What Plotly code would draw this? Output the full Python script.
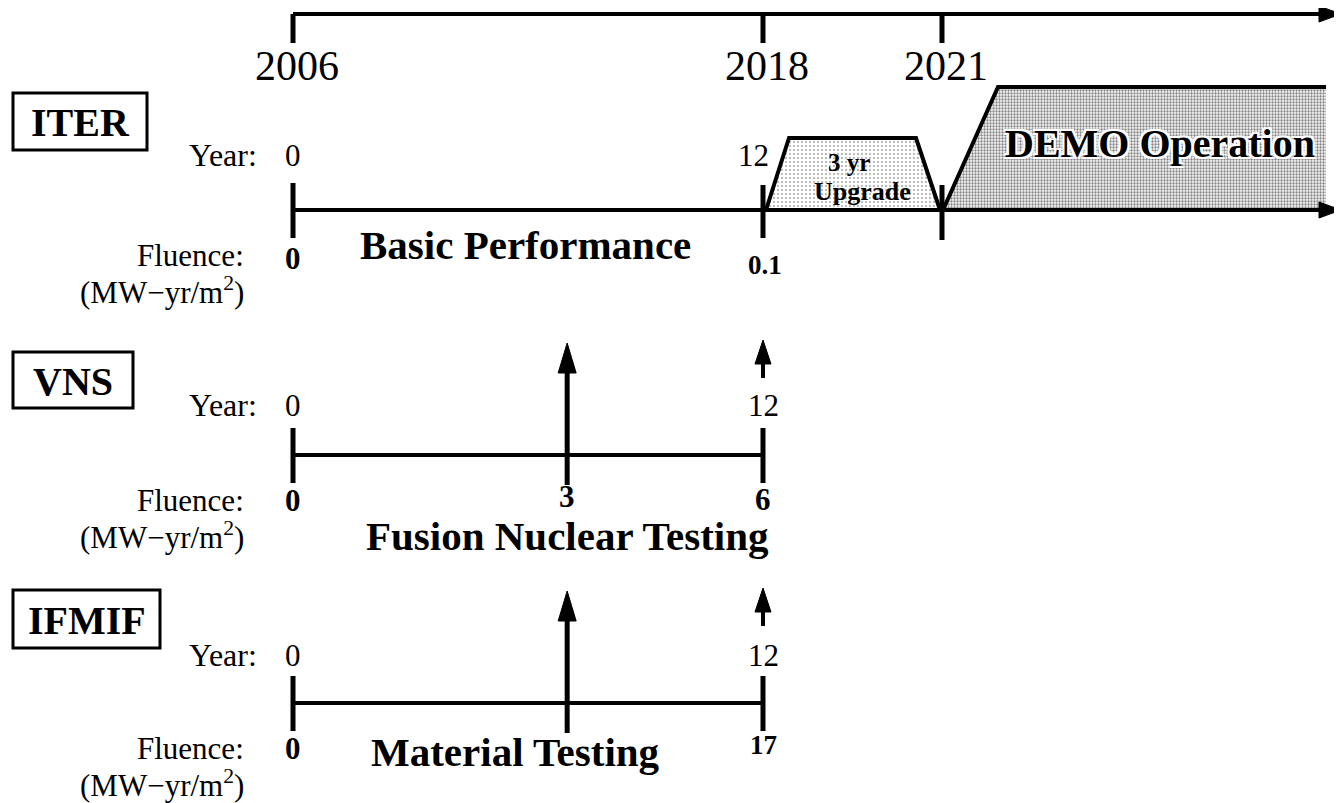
import numpy as np
import plotly.graph_objects as go

# ---- chart content ------------------------------------------------------
calendar_years = [2006, 2018, 2021]
facilities = ["ITER", "VNS", "IFMIF"]
programmes = ["Basic Performance", "Fusion Nuclear Testing", "Material Testing"]
year_ticks = [0, 12]
milestone_year = 7            # the upward arrow on the VNS / IFMIF lines
iter_fluence = ["0", "0.1"]
vns_fluence = ["0", "3", "6"]
ifmif_fluence = ["0", "", "17"]
upgrade_label = ["3 yr", "Upgrade"]
demo_label = "DEMO Operation"

# ---- schematic layout (page pixels, y grows downward) -------------------
W, H = 1342, 803
PAGE_OFF = 8                  # browser body margin: figure starts 8px in
X0, X12 = 293, 763            # year 0 and year 12 on each facility line
X_2021 = 942                  # end of the (not to scale) upgrade period
X_END = 1326
TIP = 1341
TOP_Y = 14
ROW_Y = [210, 455, 703]
YEAR_DY = [55, 50, 48]
BOXES = [(13, 93, 147, 150), (13, 352, 133, 408), (13, 590, 160, 648)]
SERIF = "Liberation Serif"
INK = "black"


def yr_x(yr):
    return X0 + (X12 - X0) * yr / 12.0


def cal_x(year):
    return float(np.interp(year, calendar_years, [X0, X12, X_2021]))


fig = go.Figure()


def line(xs, ys, w=4):
    fig.add_trace(go.Scatter(x=xs, y=ys, mode="lines", line=dict(color=INK, width=w),
                             hoverinfo="skip", showlegend=False))


def head(tx, ty, direction, length=22, half=8):
    # filled triangle arrowhead with its tip at (tx, ty)
    if direction == "right":
        xs, ys = [tx, tx - length, tx - length, tx], [ty, ty - half, ty + half, ty]
    else:  # up
        xs, ys = [tx, tx - half, tx + half, tx], [ty, ty + length, ty + length, ty]
    fig.add_trace(go.Scatter(x=xs, y=ys, mode="lines", fill="toself", fillcolor=INK,
                             line=dict(color=INK, width=1), hoverinfo="skip",
                             showlegend=False))


def text(x, y, s, size=30, bold=False, anchor="center", **kw):
    fig.add_annotation(x=x, y=y, xref="x", yref="y", text=s, showarrow=False,
                       xanchor=anchor, yanchor="middle", borderpad=0,
                       font=dict(family=SERIF, size=size, color=INK,
                                 weight="bold" if bold else "normal", **kw))


# ---- ITER upgrade and DEMO blocks ----------------------------------------
r = ROW_Y[0]
ux = [cal_x(2018) + 3, cal_x(2018) + 26, cal_x(2021) - 26, cal_x(2021) - 2]
fig.add_trace(go.Scatter(x=ux, y=[r, 138, 138, r], mode="lines", fill="toself",
                         fillcolor="white",
                         fillpattern=dict(shape=".", fgcolor="#444444", bgcolor="white",
                                          size=4, solidity=0.18),
                         line=dict(color=INK, width=4), hoverinfo="skip",
                         showlegend=False))
dx = [cal_x(2021) + 1, cal_x(2021) + 56, X_END, X_END]
fig.add_trace(go.Scatter(x=dx, y=[r, 87, 87, r], mode="none", fill="toself",
                         fillcolor="white",
                         fillpattern=dict(shape=".", fgcolor="#111111", bgcolor="#f6f6f6",
                                          size=3, solidity=0.45),
                         hoverinfo="skip", showlegend=False))
line(dx[:3], [r, 87, 87])

# ---- top calendar axis ---------------------------------------------------
line([X0, X_END], [TOP_Y, TOP_Y])
head(TIP, TOP_Y, "right")
for yv in calendar_years:
    line([cal_x(yv)] * 2, [TOP_Y, TOP_Y + 29], w=5)
    text(cal_x(yv) + 4, 66, str(yv), size=42)

# ---- facility lines --------------------------------------------------------
for i, name in enumerate(facilities):
    r = ROW_Y[i]
    bx0, by0, bx1, by1 = BOXES[i]
    fig.add_shape(type="rect", x0=bx0, y0=by0, x1=bx1, y1=by1, xref="x", yref="y",
                  line=dict(color=INK, width=3))
    text((bx0 + bx1) / 2, (by0 + by1) / 2 + 1, name, size=40, bold=True)

    text(258, r - YEAR_DY[i], "Year:", size=32, anchor="right")
    text(yr_x(year_ticks[0]), r - YEAR_DY[i], str(year_ticks[0]), size=31)
    text(yr_x(year_ticks[1]) - (10 if name == "ITER" else 0), r - YEAR_DY[i],
         str(year_ticks[1]), size=31)
    text(245, r + 45, "Fluence:", size=31, anchor="right")
    text(245, r + 80, "(MW\u2212yr/m<sup>2</sup>)", size=31, anchor="right")

    if name == "ITER":
        line([X0, X_END], [r, r])
        head(TIP, r, "right")
        line([X0, X0], [r - 27, r + 28], w=5)
        line([X12, X12], [r - 25, r + 28], w=5)
        line([X_2021, X_2021], [r - 25, r + 30], w=5)
        text(yr_x(0), r + 48, iter_fluence[0], size=31, bold=True)
        text(yr_x(12) + 2, r + 55, iter_fluence[1], size=27, bold=True)
        text(525, r + 35, programmes[i], size=41, bold=True)
    else:
        line([X0, X12], [r, r])
        line([X0, X0], [r - 27, r + 28], w=5)
        line([X12, X12], [r - 27, r + 28], w=5)
        xm = yr_x(milestone_year)
        line([xm, xm], [r + 30, r - 88], w=5)
        head(xm, r - 112, "up", length=30, half=9)
        line([X12, X12], [r - 77, r - 95], w=4)
        head(X12, r - 115, "up", length=24, half=8)
        labels = vns_fluence if name == "VNS" else ifmif_fluence
        text(yr_x(0), r + 45, labels[0], size=31, bold=True)
        if labels[1]:
            text(xm, r + 41, labels[1], size=31, bold=True)
        text(yr_x(12), r + 44 if name == "VNS" else r + 42, labels[2],
             size=31 if name == "VNS" else 27, bold=True)
        if name == "VNS":
            text(567, r + 81, programmes[i], size=41, bold=True)
        else:
            text(515, r + 49, programmes[i], size=41, bold=True)

# ---- block labels ----------------------------------------------------------
halo = "2px 2px 0 white, -2px -2px 0 white, 2px -2px 0 white, -2px 2px 0 white"
text(1160, 143, demo_label, size=40, bold=True, shadow=halo)
text(849, 162, upgrade_label[0], size=25, bold=True)
text(862, 191, upgrade_label[1], size=26, bold=True)

fig.update_layout(
    width=W - PAGE_OFF, height=H - PAGE_OFF,
    margin=dict(l=0, r=0, t=0, b=0),
    paper_bgcolor="white", plot_bgcolor="white",
    xaxis=dict(range=[PAGE_OFF, W], visible=False, fixedrange=True),
    yaxis=dict(range=[H, PAGE_OFF], visible=False, fixedrange=True),
    showlegend=False,
)

fig.write_html("out.html")
